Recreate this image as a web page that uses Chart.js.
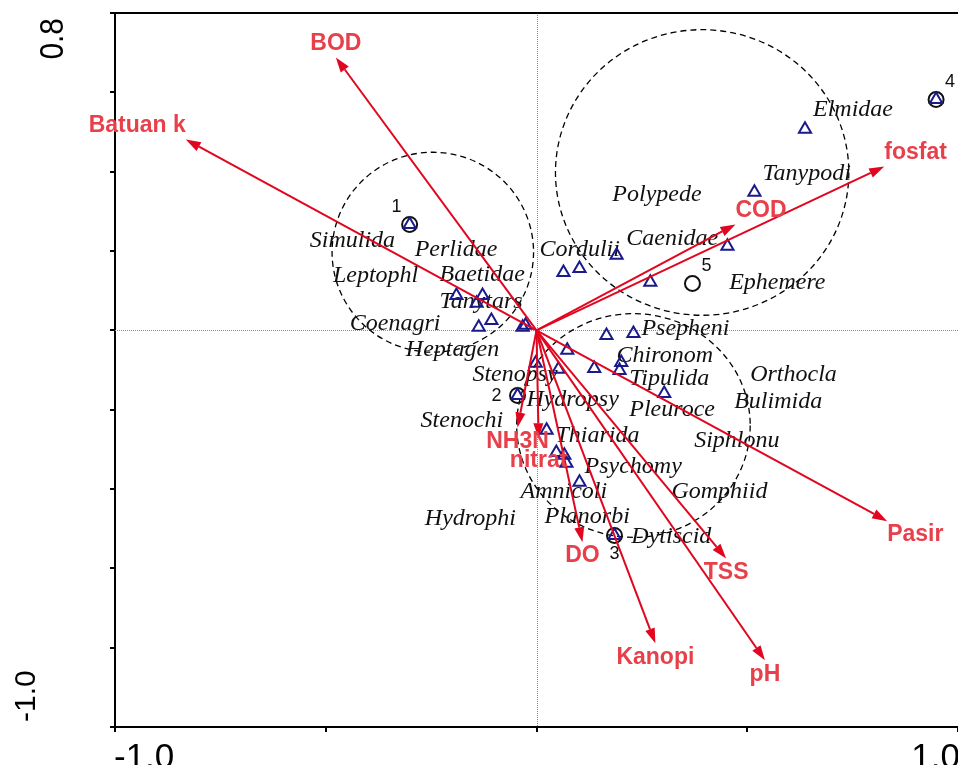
<!DOCTYPE html>
<html>
<head>
<meta charset="utf-8">
<title>Ordination biplot</title>
<script src="https://cdn.jsdelivr.net/npm/chart.js@4.4.1/dist/chart.umd.min.js"></script>
<style>
  html, body { margin: 0; padding: 0; background: #fff; overflow: hidden; }
  #wrap { width: 958px; height: 765px; position: relative; }
</style>
</head>
<body>
<div id="wrap"><canvas id="c" width="958" height="765"></canvas></div>
<script>
// Taxon scores (triangles)
const taxonX = [-0.301, -0.190, -0.128, -0.142, -0.107, -0.137, -0.033, -0.026,
                 0.064,  0.102,  0.190,  0.270,  0.166,  0.230,  0.637,  0.517,
                 0.453,  0.948,  0.073, -0.002,  0.052,  0.137,  0.201,  0.197,
                 0.303, -0.045,  0.024,  0.047,  0.066,  0.071,  0.102,  0.185];
const taxonY = [ 0.267,  0.088,  0.088,  0.068,  0.025,  0.008,  0.008,  0.013,
                 0.146,  0.156,  0.189,  0.121, -0.013, -0.008,  0.507,  0.348,
                 0.212,  0.582, -0.050, -0.083, -0.098, -0.096, -0.081, -0.101,
                -0.159, -0.164, -0.252, -0.308, -0.315, -0.335, -0.383, -0.517];

// Taxon name labels and their anchor (left edge, middle) in axis units
const taxonNames = ['Simulida', 'Perlidae', 'Leptophl', 'Baetidae', 'Tanytars', 'Coenagri',
                    'Heptagen', 'Stenopsy', 'Hydropsy', 'Stenochi', 'Thiarida', 'Psychomy',
                    'Amnicoli', 'Hydrophi', 'Planorbi', 'Dytiscid', 'Gomphiid', 'Siphlonu',
                    'Pleuroce', 'Bulimida', 'Orthocla', 'Tipulida', 'Chironom', 'Psepheni',
                    'Ephemere', 'Caenidae', 'Cordulii', 'Polypede', 'Tanypodi', 'Elmidae'];
const taxonLabelX = [-0.538, -0.289, -0.483, -0.230, -0.230, -0.443,
                     -0.310, -0.152, -0.024, -0.275,  0.045,  0.114,
                     -0.038, -0.265,  0.019,  0.225,  0.320,  0.374,
                      0.220,  0.469,  0.507,  0.220,  0.190,  0.249,
                      0.457,  0.213,  0.007,  0.180,  0.536,  0.656];
const taxonLabelY = [ 0.227,  0.204,  0.139,  0.141,  0.071,  0.018,
                     -0.048, -0.111, -0.176, -0.227, -0.265, -0.343,
                     -0.408, -0.474, -0.471, -0.519, -0.406, -0.277,
                     -0.199, -0.181, -0.111, -0.121, -0.063,  0.003,
                      0.121,  0.232,  0.204,  0.343,  0.396,  0.555];

// Sampling sites (open circles)
const siteIds = ['1', '2', '3', '4', '5'];
const siteX = [-0.301, -0.045, 0.185, 0.948, 0.370];
const siteY = [ 0.267, -0.164, -0.517, 0.582, 0.118];
const siteLabelSide = ['nw', 'w', 's', 'ne', 'ne'];

// Environmental variables (arrow tips)
const envNames = ['Batuan k', 'BOD', 'fosfat', 'COD', 'Pasir', 'TSS',
                  'pH', 'Kanopi', 'DO', 'NH3N', 'nitrat'];
const envX = [-0.832, -0.476, 0.825, 0.472, 0.832, 0.450, 0.542, 0.282, 0.109, -0.045, 0.005];
const envY = [ 0.481,  0.688, 0.413, 0.267, -0.481, -0.575, -0.832, -0.789, -0.534, -0.245, -0.272];

// Site groupings (dashed outlines): centre and radii in axis units
const groupCX = [-0.246, 0.393, 0.230];
const groupCY = [ 0.197, 0.398, -0.240];
const groupRX = [ 0.239, 0.348, 0.277];
const groupRY = [ 0.252, 0.360, 0.282];

// Axis ranges and the labelled end ticks
const xRange = [-1.0, 1.0];
const yRange = [-1.0, 0.8];
const xEndLabels = ['-1.0', '1.0'];
const yEndLabels = ['-1.0', '0.8'];

const ARROW = '#e1061f';
const ARROW_TEXT = '#e8404a';

const biplot = {
  id: 'biplot',
  beforeDatasetsDraw(chart) {
    const { ctx, chartArea: a, scales: { x, y } } = chart;
    ctx.save();
    ctx.beginPath();
    ctx.rect(a.left, a.top, a.right - a.left, a.bottom - a.top);
    ctx.clip();

    // zero lines
    const x0 = Math.round(x.getPixelForValue(0)) + 0.5;
    const y0 = Math.round(y.getPixelForValue(0)) + 0.5;
    ctx.strokeStyle = '#8c8c8c';
    ctx.lineWidth = 1;
    ctx.setLineDash([1, 1]);
    ctx.beginPath();
    ctx.moveTo(x0, a.top); ctx.lineTo(x0, a.bottom);
    ctx.moveTo(a.left, y0); ctx.lineTo(a.right, y0);
    ctx.stroke();

    // dashed group outlines
    ctx.strokeStyle = '#000';
    ctx.lineWidth = 1.3;
    ctx.setLineDash([6, 4]);
    groupCX.forEach((cx, i) => {
      const px = x.getPixelForValue(cx), py = y.getPixelForValue(groupCY[i]);
      const rx = x.getPixelForValue(cx + groupRX[i]) - px;
      const ry = py - y.getPixelForValue(groupCY[i] + groupRY[i]);
      ctx.beginPath();
      ctx.ellipse(px, py, rx, ry, 0, 0, Math.PI * 2);
      ctx.stroke();
    });
    ctx.setLineDash([]);

    // taxon names
    ctx.fillStyle = '#111';
    ctx.font = 'italic 24px "Liberation Serif", "Times New Roman", serif';
    ctx.textAlign = 'left';
    ctx.textBaseline = 'middle';
    taxonNames.forEach((n, i) => {
      ctx.fillText(n, x.getPixelForValue(taxonLabelX[i]), y.getPixelForValue(taxonLabelY[i]));
    });
    ctx.restore();
  },
  afterDatasetsDraw(chart) {
    const { ctx, scales: { x, y } } = chart;
    const x0 = x.getPixelForValue(0), y0 = y.getPixelForValue(0);
    ctx.save();

    // environmental arrows
    ctx.strokeStyle = ARROW;
    ctx.fillStyle = ARROW;
    ctx.lineWidth = 2;
    const hl = 15, hw = 5;
    envNames.forEach((n, i) => {
      const tx = x.getPixelForValue(envX[i]), ty = y.getPixelForValue(envY[i]);
      const ang = Math.atan2(ty - y0, tx - x0);
      const c = Math.cos(ang), s = Math.sin(ang);
      const bx = tx - hl * c, by = ty - hl * s;
      ctx.beginPath();
      ctx.moveTo(x0, y0); ctx.lineTo(bx, by);
      ctx.stroke();
      ctx.beginPath();
      ctx.moveTo(tx, ty);
      ctx.lineTo(bx + hw * s, by - hw * c);
      ctx.lineTo(bx - hw * s, by + hw * c);
      ctx.closePath();
      ctx.fill();
    });

    // arrow names: beside the tip, pushed clear of earlier names
    ctx.font = 'bold 23px "Liberation Sans", Arial, sans-serif';
    ctx.fillStyle = ARROW_TEXT;
    ctx.textBaseline = 'middle';
    ctx.textAlign = 'left';
    const placed = [];
    const h = 17;
    envNames.forEach((n, i) => {
      const tx = x.getPixelForValue(envX[i]), ty = y.getPixelForValue(envY[i]);
      const dx = tx - x0, dy = ty - y0;
      const w = ctx.measureText(n).width;
      let left;
      if (Math.abs(dx) > Math.abs(dy)) left = dx > 0 ? tx : tx - w;
      else left = tx - w / 2;
      const dir = dy > 0 ? 1 : -1;
      let cy = ty + dir * 14;
      let moved = true;
      while (moved) {
        moved = false;
        for (const p of placed) {
          if (left < p.l + p.w && left + w > p.l && Math.abs(cy - p.cy) < h) {
            cy = p.cy + dir * (h + 2);
            moved = true;
          }
        }
      }
      placed.push({ l: left, w, cy });
      ctx.fillText(n, left, cy);
    });

    // site numbers
    ctx.fillStyle = '#111';
    ctx.font = '18px "Liberation Sans", Arial, sans-serif';
    ctx.textAlign = 'center';
    const off = { nw: [-13, -17], w: [-21, 1], s: [0, 19], ne: [14, -17] };
    siteIds.forEach((id, i) => {
      const o = off[siteLabelSide[i]];
      ctx.fillText(id, x.getPixelForValue(siteX[i]) + o[0], y.getPixelForValue(siteY[i]) + o[1]);
    });
    ctx.restore();
  },
  afterDraw(chart) {
    const { ctx, chartArea: a, scales: { x, y } } = chart;
    ctx.save();
    // top frame line
    ctx.strokeStyle = '#000';
    ctx.lineWidth = 2;
    ctx.beginPath();
    ctx.moveTo(a.left - 5, a.top); ctx.lineTo(a.right + 2, a.top);
    ctx.stroke();

    // horizontal axis end labels
    ctx.fillStyle = '#000';
    ctx.font = '35px "Liberation Sans", Arial, sans-serif';
    ctx.textBaseline = 'alphabetic';
    ctx.textAlign = 'left';
    ctx.fillText(xEndLabels[0], x.getPixelForValue(xRange[0]) - 1, a.bottom + 41);
    ctx.textAlign = 'right';
    ctx.fillText(xEndLabels[1], x.getPixelForValue(xRange[1]) + 2, a.bottom + 41);

    // vertical axis end labels (rotated)
    ctx.save();
    ctx.translate(a.left - 80, y.getPixelForValue(yRange[0]) - 5);
    ctx.rotate(-Math.PI / 2);
    ctx.font = '30px "Liberation Sans", Arial, sans-serif';
    ctx.textAlign = 'left';
    ctx.fillText(yEndLabels[0], 0, 0);
    ctx.restore();

    ctx.save();
    ctx.translate(a.left - 52, y.getPixelForValue(yRange[1]) + 5);
    ctx.rotate(-Math.PI / 2);
    ctx.scale(0.88, 1);
    ctx.font = '34px "Liberation Sans", Arial, sans-serif';
    ctx.textAlign = 'right';
    ctx.fillText(yEndLabels[1], 0, 0);
    ctx.restore();
    ctx.restore();
  }
};

new Chart(document.getElementById('c'), {
  type: 'scatter',
  data: {
    datasets: [
      {
        label: 'Taxa',
        data: taxonX.map((v, i) => ({ x: v, y: taxonY[i] })),
        pointStyle: 'triangle',
        radius: 7,
        hoverRadius: 7,
        borderWidth: 2,
        borderColor: '#1a1a8a',
        backgroundColor: 'rgba(0,0,0,0)'
      },
      {
        label: 'Sites',
        data: siteX.map((v, i) => ({ x: v, y: siteY[i] })),
        pointStyle: 'circle',
        radius: 7.5,
        hoverRadius: 7.5,
        borderWidth: 2,
        borderColor: '#111',
        backgroundColor: 'rgba(0,0,0,0)'
      }
    ]
  },
  options: {
    responsive: false,
    animation: false,
    events: [],
    layout: { autoPadding: false, padding: { top: 13, left: 0, right: 0, bottom: 0 } },
    plugins: { legend: { display: false }, tooltip: { enabled: false } },
    scales: {
      x: {
        type: 'linear', min: xRange[0], max: xRange[1],
        ticks: { stepSize: 0.5, display: false },
        grid: { drawOnChartArea: false, drawTicks: true, tickLength: 5, color: '#000', lineWidth: 2 },
        border: { display: true, color: '#000', width: 2 },
        afterFit(s) { s.height = 38; }
      },
      y: {
        type: 'linear', min: yRange[0], max: yRange[1],
        ticks: { stepSize: 0.2, display: false },
        grid: { drawOnChartArea: false, drawTicks: true, tickLength: 5, color: '#000', lineWidth: 2 },
        border: { display: true, color: '#000', width: 2 },
        afterFit(s) { s.width = 115; }
      }
    }
  },
  plugins: [biplot]
});
</script>
</body>
</html>
